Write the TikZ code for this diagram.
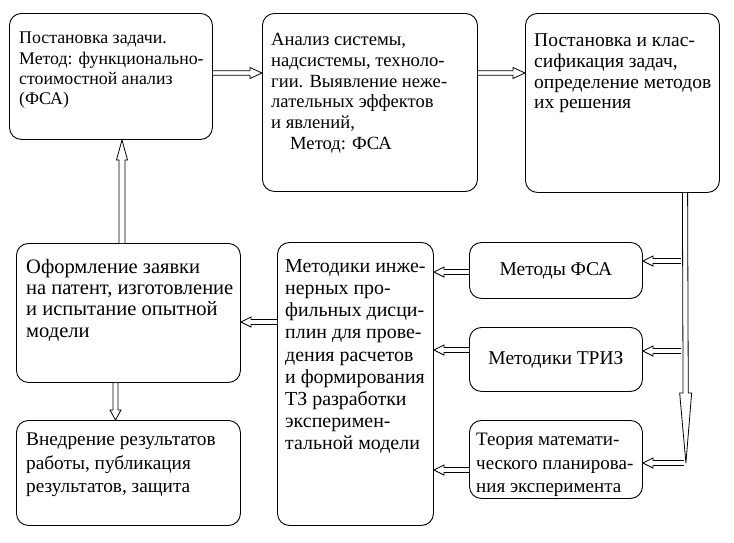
\documentclass[tikz,border=0pt]{standalone}
\usepackage{fontspec}
\setmainfont{Liberation Serif}
\usetikzlibrary{calc}
\newcommand\blockarrow[5]{%
  \draw[arr] let \p1=(#1), \p2=(#2), \n1={veclen(\x2-\x1,\y2-\y1)},
    \n2={(\x2-\x1)/\n1}, \n3={(\y2-\y1)/\n1} in
    ({\x1-(#3pt)*\n3},{\y1+(#3pt)*\n2})
    -- ({\x2-(#5pt)*\n2-(#3pt)*\n3},{\y2-(#5pt)*\n3+(#3pt)*\n2})
    -- ({\x2-(#5pt)*\n2-(#4pt)*\n3},{\y2-(#5pt)*\n3+(#4pt)*\n2})
    -- (\p2)
    -- ({\x2-(#5pt)*\n2+(#4pt)*\n3},{\y2-(#5pt)*\n3-(#4pt)*\n2})
    -- ({\x2-(#5pt)*\n2+(#3pt)*\n3},{\y2-(#5pt)*\n3-(#3pt)*\n2})
    -- ({\x1+(#3pt)*\n3},{\y1-(#3pt)*\n2});%
}
\begin{document}
\begin{tikzpicture}[x=1pt,y=-1pt,
  box/.style={draw, line width=0.9pt, rounded corners=12pt, anchor=north west, inner sep=0pt},
  fs/.style 2 args={font=\fontsize{#1}{#2}\selectfont},
  txt/.style={anchor=north west, align=left, inner sep=0pt},
  ctxt/.style={align=center, inner sep=0pt},
  arr/.style={draw, line width=0.8pt, fill=white, line join=miter}]
\useasboundingbox (0,0) rectangle (734,542);

% boxes
\node[box, minimum width=203pt, minimum height=126pt] (b1) at (9,13) {};
\node[box, minimum width=215pt, minimum height=178pt] (b2) at (262,13) {};
\node[box, minimum width=194pt, minimum height=179pt] (b3) at (525,13) {};
\node[box, minimum width=224pt, minimum height=139pt] (b4) at (16,243) {};
\node[box, minimum width=156pt, minimum height=283pt] (b5) at (277,242) {};
\node[box, minimum width=173pt, minimum height=56pt] (b6) at (469,242) {};
\node[box, minimum width=173pt, minimum height=64pt] (b7) at (469,327) {};
\node[box, minimum width=173pt, minimum height=78pt] (b8) at (469,420) {};
\node[box, minimum width=224pt, minimum height=105pt] (b9) at (16,420) {};

% texts
\node[txt, fs={17.8}{20.3}] (t1) at (19,32) {Постановка задачи.\\Метод: функционально-\\стоимостной анализ\\(ФСА)};
\node[txt, fs={18.6}{20.8}] (t2) at (271,33) {Анализ системы,\\надсистемы, техноло-\\гии. Выявление неже-\\лательных эффектов\\и явлений,\\\hspace*{19pt}Метод: ФСА};
\node[txt, fs={19.5}{20.6}] (t3) at (534,34) {Постановка и клас-\\сификация задач,\\определение методов\\их решения};
\node[txt, fs={20.5}{21.2}] (t4) at (26,259) {Оформление заявки\\на патент, изготовление\\и испытание опытной\\модели};
\node[txt, fs={19.9}{22.2}] (t5) at (285,259) {Методики инже-\\нерных про-\\фильных дисци-\\плин для прове-\\дения расчетов\\и формирования\\ТЗ разработки\\эксперимен-\\тальной модели};
\node[ctxt, fs={19.5}{22}] (t6) at (b6.center) {Методы ФСА};
\node[ctxt, fs={19.5}{22}] (t7) at (b7.center) {Методики ТРИЗ};
\node[txt, fs={19}{23.5}] (t8) at (476,433) {Теория математи-\\ческого планирова-\\ния эксперимента};
\node[txt, fs={19.3}{23.5}] (t9) at (26,433) {Внедрение результатов\\работы, публикация\\результатов, защита};

% connectors
\blockarrow{$(b1.north east)+(0,60)$}{$(b2.north west)+(0,60)$}{2.2}{5.5}{12}
\blockarrow{$(b2.north east)+(0,60)$}{$(b3.north west)+(0,60)$}{2.2}{5.5}{12}
\coordinate (vtip) at ($(b8.north east)+(43,43)$);
\blockarrow{$(b3.south west)+(160,0)$}{vtip}{2.6}{6}{70}
\blockarrow{$(b6.north east)+(38,19)$}{$(b6.north east)+(0,19)$}{2.5}{5}{10}
\blockarrow{$(b7.north east)+(38,24)$}{$(b7.north east)+(0,24)$}{2.5}{5}{10}
\blockarrow{$(b8.north east)+(41,43)$}{$(b8.north east)+(0,43)$}{2.5}{5}{10}
\blockarrow{$(b6.north west)+(0,30)$}{$(b5.north east)+(0,30)$}{2.5}{5}{10}
\blockarrow{$(b7.north west)+(0,23)$}{$(b5.north east)+(0,108)$}{2.5}{5}{10}
\blockarrow{$(b8.north west)+(0,50)$}{$(b5.north east)+(0,228)$}{2.5}{5}{10}
\blockarrow{$(b5.north west)+(0,80)$}{$(b4.north east)+(0,79)$}{2.5}{5}{10}
\blockarrow{$(b4.north west)+(106,0)$}{$(b1.south west)+(113,0)$}{3}{5.5}{20}
\blockarrow{$(b4.south west)+(99.5,0)$}{$(b9.north west)+(99.5,0)$}{2.5}{5.5}{10}
\end{tikzpicture}
\end{document}
